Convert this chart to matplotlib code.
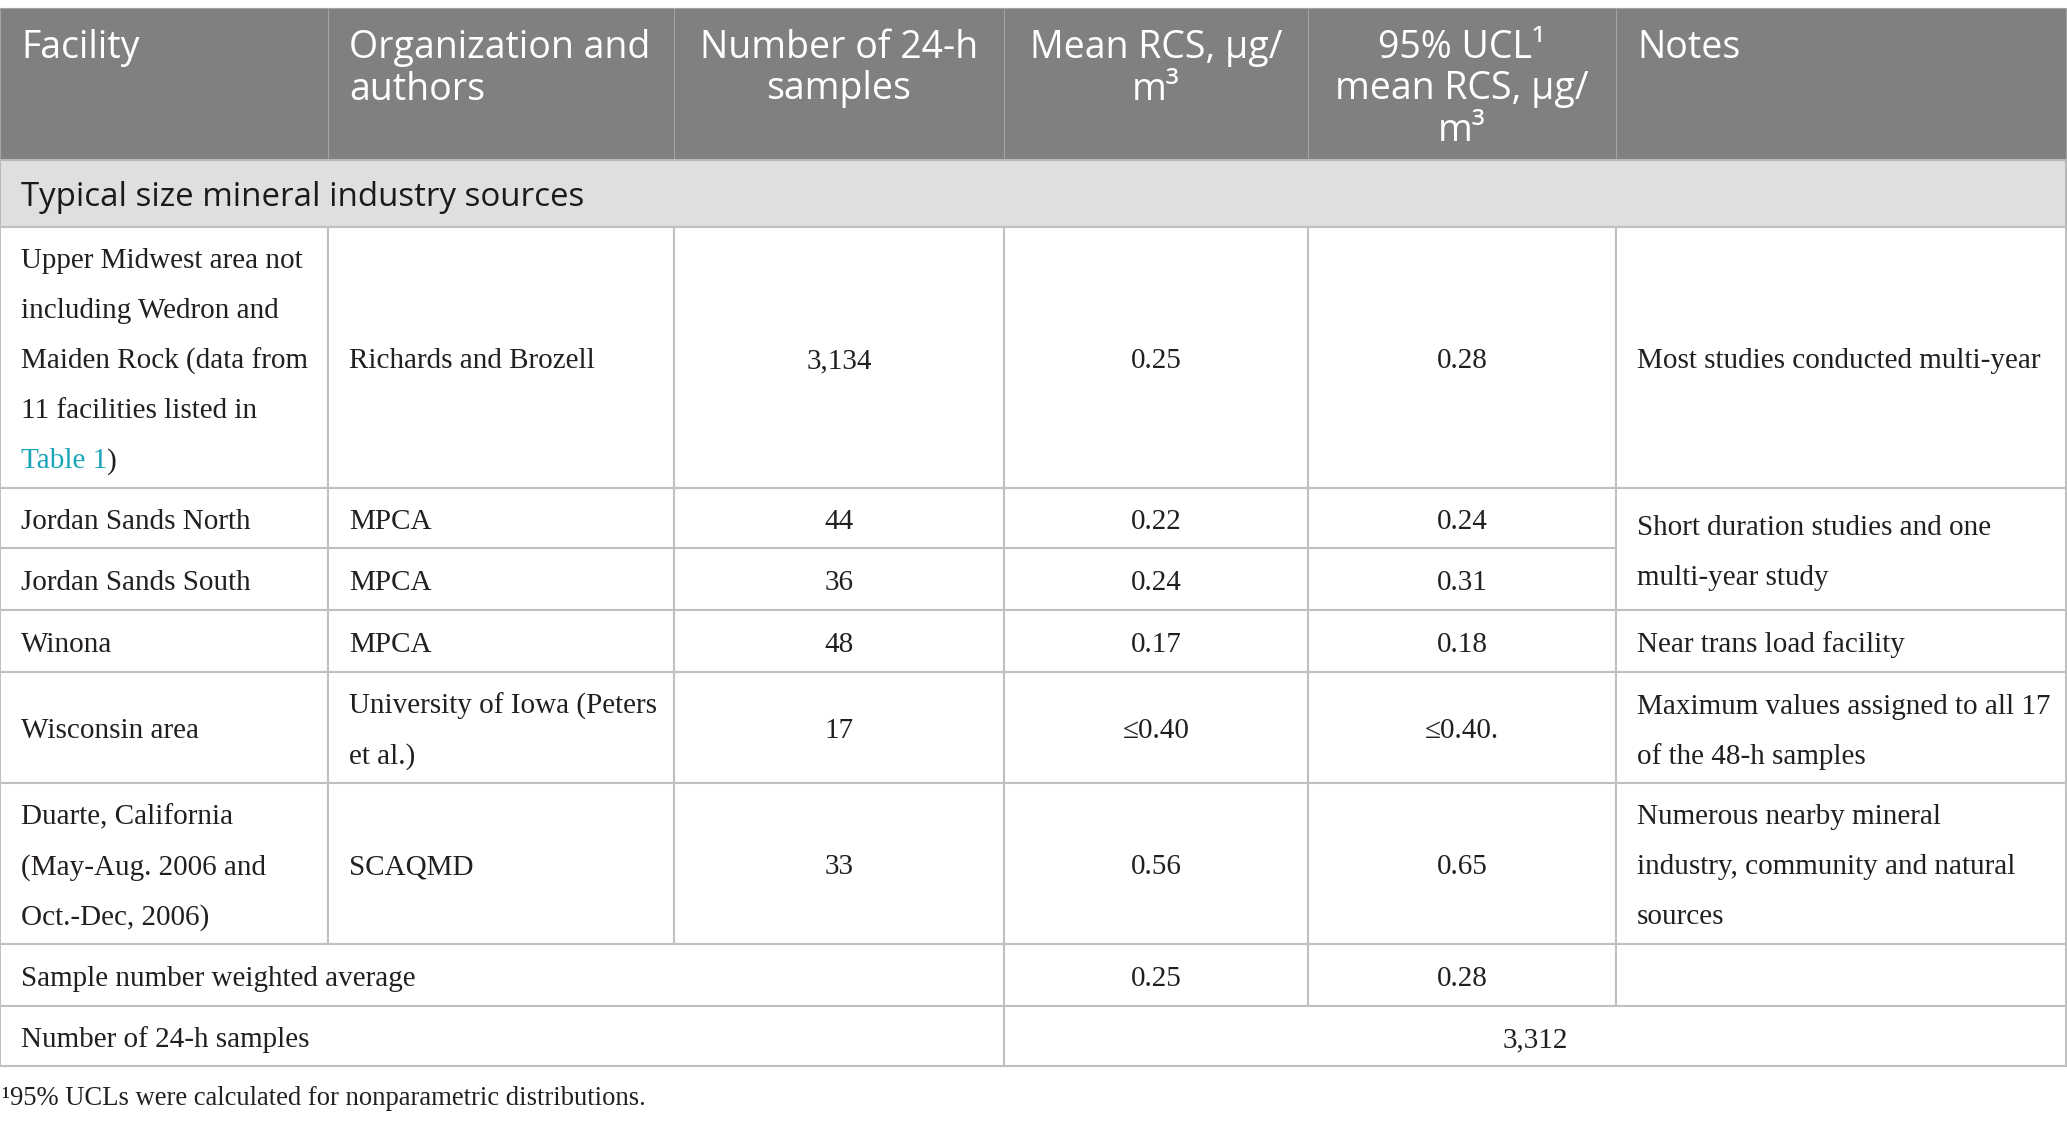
import matplotlib
matplotlib.use("Agg")
import matplotlib.pyplot as plt
from matplotlib.patches import Rectangle

W, H = 2067, 1123
DPI = 100

# ---- table content ----
headers = ["Facility", "Organization and\nauthors", "Number of 24-h\nsamples",
           "Mean RCS, \u00b5g/\nm\u00b3", "95% UCL\u00b9\nmean RCS, \u00b5g/\nm\u00b3", "Notes"]
header_align = ["left", "left", "center", "center", "center", "left"]
section = "Typical size mineral industry sources"

facility = ["Upper Midwest area not\nincluding Wedron and\nMaiden Rock (data from\n11 facilities listed in\nTable 1)",
            "Jordan Sands North", "Jordan Sands South", "Winona", "Wisconsin area",
            "Duarte, California\n(May-Aug. 2006 and\nOct.-Dec, 2006)"]
orgs = ["Richards and Brozell", "MPCA", "MPCA", "MPCA",
        "University of Iowa (Peters\net al.)", "SCAQMD"]
n_samples = ["3,134", "44", "36", "48", "17", "33"]
mean_rcs = ["0.25", "0.22", "0.24", "0.17", "\u22640.40", "0.56"]
ucl_rcs = ["0.28", "0.24", "0.31", "0.18", "\u22640.40.", "0.65"]
# notes with the number of rows each one spans
notes = [("Most studies conducted multi-year", 1),
         ("Short duration studies and one\nmulti-year study", 2),
         ("Near trans load facility", 1),
         ("Maximum values assigned to all 17\nof the 48-h samples", 1),
         ("Numerous nearby mineral\nindustry, community and natural\nsources", 1)]

weighted_label = "Sample number weighted average"
weighted_mean = "0.25"
weighted_ucl = "0.28"
total_label = "Number of 24-h samples"
total_samples = "3,312"
footnote = "\u00b995% UCLs were calculated for nonparametric distributions."
link_text = "Table 1"

# ---- layout (pixels) ----
col_edges = [0, 328, 674, 1004, 1308, 1616, 2066]
row_edges = [8, 160, 227, 488, 548, 610, 672, 783, 944, 1006, 1066]
pad = 21

SANS = ["Open Sans", "DejaVu Sans"]
SERIF = ["Liberation Serif", "DejaVu Serif"]
HEAD_BG = "#7f817f"
SECT_BG = "#e0dedf"
GRID = "#c0c0c0"
TXT = "#231f20"
LINK = "#1ba5ba"

fig = plt.figure(figsize=(W / DPI, H / DPI), dpi=DPI)
ax = fig.add_axes([0, 0, 1, 1])
ax.set_xlim(0, W)
ax.set_ylim(H, 0)
ax.axis("off")


def cell(r0, r1, c0, c1, face="none", edge=GRID, lw=1.5, z=1):
    x0, x1 = col_edges[c0], col_edges[c1]
    y0, y1 = row_edges[r0], row_edges[r1]
    ax.add_patch(Rectangle((x0, y0), x1 - x0, y1 - y0, facecolor=face,
                           edgecolor=edge, linewidth=lw, zorder=z))
    return x0, x1, y0, y1


def body_text(text, r0, r1, c0, c1, ha="left", color=TXT):
    x0, x1 = col_edges[c0], col_edges[c1]
    yc = (row_edges[r0] + row_edges[r1]) / 2
    x = x0 + pad if ha == "left" else (x0 + x1) / 2
    lines = text.split("\n")
    n = len(lines)
    out = []
    for i, ln in enumerate(lines):
        yb = yc + (i - (n - 1) / 2) * 50 + 11
        out.append(ax.text(x, yb, ln, ha=ha, va="baseline", fontsize=21,
                           family=SERIF, color=color, zorder=5))
    return out


# header
for c, (h, al) in enumerate(zip(headers, header_align)):
    x0, x1, y0, y1 = cell(0, 1, c, c + 1, face=HEAD_BG, edge="#a3a3a3", lw=0.8)
    x = x0 + pad if al == "left" else (x0 + x1) / 2
    for i, ln in enumerate(h.split("\n")):
        ax.text(x, y0 + 50 + i * 41.5, ln, ha=al, va="baseline", fontsize=27,
                family=SANS, color="white", zorder=5)

# section row
x0, x1, y0, y1 = cell(1, 2, 0, 6, face=SECT_BG, edge="#b8b8b8", lw=1.5)
ax.text(x0 + pad, (y0 + y1) / 2 + 12, section, ha="left", va="baseline",
        fontsize=23.8, family=SANS, color="#1a1a1a", zorder=5)

# body rows
fac_texts = []
for i in range(len(facility)):
    r = 2 + i
    for c in range(5):
        cell(r, r + 1, c, c + 1, face="white")
    fac_texts.append(body_text(facility[i], r, r + 1, 0, 1))
    body_text(orgs[i], r, r + 1, 1, 2)
    body_text(n_samples[i], r, r + 1, 2, 3, ha="center")
    body_text(mean_rcs[i], r, r + 1, 3, 4, ha="center")
    body_text(ucl_rcs[i], r, r + 1, 4, 5, ha="center")

r = 2
for txt, span in notes:
    cell(r, r + span, 5, 6, face="white")
    body_text(txt, r, r + span, 5, 6)
    r += span

# summary rows
r = 2 + len(facility)
cell(r, r + 1, 0, 3, face="white")
body_text(weighted_label, r, r + 1, 0, 3)
cell(r, r + 1, 3, 4, face="white")
body_text(weighted_mean, r, r + 1, 3, 4, ha="center")
cell(r, r + 1, 4, 5, face="white")
body_text(weighted_ucl, r, r + 1, 4, 5, ha="center")
cell(r, r + 1, 5, 6, face="white")

r += 1
cell(r, r + 1, 0, 3, face="white")
body_text(total_label, r, r + 1, 0, 3)
cell(r, r + 1, 3, 6, face="white")
body_text(total_samples, r, r + 1, 3, 6, ha="center")

# colour the table link in the first facility cell
fig.canvas.draw()
renderer = fig.canvas.get_renderer()
for t in fac_texts[0]:
    s = t.get_text()
    if s.startswith(link_text):
        x, y = t.get_position()
        t.set_text(link_text)
        t.set_color(LINK)
        wpx = t.get_window_extent(renderer).width
        ax.text(x + wpx, y, s[len(link_text):], ha="left", va="baseline",
                fontsize=21, family=SERIF, color=TXT, zorder=5)

ax.text(2, 1105, footnote, ha="left", va="baseline", fontsize=19.2,
        family=SERIF, color=TXT)

fig.savefig("out.png", dpi=DPI, facecolor="white")
